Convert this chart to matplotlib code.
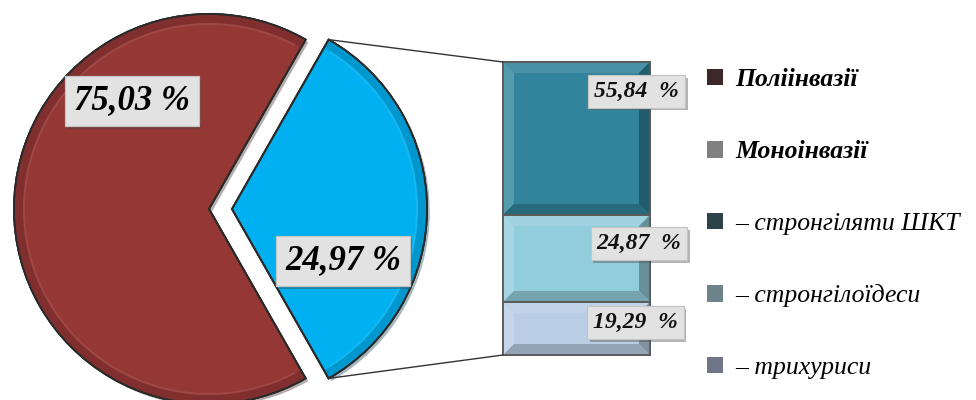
import matplotlib
matplotlib.use('Agg')
import matplotlib.pyplot as plt
from matplotlib.patches import Patch, Polygon, ConnectionPatch, Wedge
from matplotlib.transforms import IdentityTransform
import matplotlib.patheffects as pe
import matplotlib.colors as mcolors
import numpy as np

# ---- data ----
pie_categories = ['Поліінвазії', 'Моноінвазії']
pie_shares = [66.5, 33.5]            # slice sizes as drawn in the picture
pie_label_values = [75.03, 24.97]    # printed labels
bar_categories = ['– стронгіляти ШКТ', '– стронгілоїдеси', '– трихуриси']
bar_shares = [52.2, 29.7, 18.1]      # segment sizes as drawn
bar_label_values = [55.84, 24.87, 19.29]

pie_colors = ['#953735', '#00b0f0']
bar_colors = ['#31849b', '#92cddc', '#b9cde5']
legend_colors = ['#3c2828', '#808080', '#2c434a', '#6c838a', '#6f7686']

SERIF = ['Liberation Serif', 'DejaVu Serif']


def fmt(v, sep=' '):
    return f'{v:.2f}'.replace('.', ',') + sep + '%'


def shade(c, f):
    r = np.array(mcolors.to_rgb(c))
    if f >= 0:
        r = r + (1 - r) * f
    else:
        r = r * (1 + f)
    return tuple(np.clip(r, 0, 1))


fig = plt.figure(figsize=(9.76, 4.0), dpi=100)
ax = fig.add_axes([0, 0, 1, 1])

blue_deg = pie_shares[1] / sum(pie_shares) * 360
wedges, _ = ax.pie(pie_shares, colors=pie_colors, startangle=blue_deg / 2,
                   explode=[0, 23], center=(209, 191), radius=195, frame=True,
                   wedgeprops=dict(edgecolor='#2a2a2a', linewidth=1.3))
for w in wedges:
    w.set_path_effects([pe.withSimplePatchShadow(offset=(2, -2), alpha=0.35),
                        pe.Normal()])
# soft bevel rim on each slice (derived from the wedge geometry)
for w, c in zip(wedges, pie_colors):
    ax.add_patch(Wedge(w.center, w.r - 1, w.theta1 + 0.4, w.theta2 - 0.4,
                       width=8, fc=shade(c, -0.14), ec='none', zorder=2))
    ax.add_patch(Wedge(w.center, w.r - 9, w.theta1 + 2, w.theta2 - 2,
                       width=2, fc=shade(c, 0.25), ec='none', alpha=0.35,
                       zorder=2))
    ax.add_patch(Wedge(w.center, w.r, w.theta1, w.theta2, fc='none',
                       ec='#2a2a2a', lw=1.3, zorder=3))
ax.set_xlim(0, 976)
ax.set_ylim(0, 400)
ax.set_aspect('equal')
ax.axis('off')

# pie labels
box_kw = dict(boxstyle='square,pad=0.25', fc='#e2e2e2', ec='#c4c4c4', lw=0.8)
pie_label_pos = [(132, 299), (343, 139)]
for v, (x, y) in zip(pie_label_values, pie_label_pos):
    t = ax.text(x, y, fmt(v), ha='center', va='center', fontsize=25,
                family=SERIF, fontweight='bold', fontstyle='italic',
                color='black', bbox=box_kw, zorder=5)
    t.get_bbox_patch().set_path_effects(
        [pe.withSimplePatchShadow(offset=(2, -2), alpha=0.4), pe.Normal()])

# ---- bar of pie ----
bax = fig.add_axes([503 / 976, 45 / 400, 147 / 976, 293 / 400])
bottoms = [sum(bar_shares[i + 1:]) for i in range(len(bar_shares))]
rects = bax.bar(0, bar_shares, bottom=bottoms, width=1, color=bar_colors,
                edgecolor='#5a5a5a', linewidth=1.3, clip_on=False)
bax.set_xlim(-0.5, 0.5)
bax.set_ylim(0, sum(bar_shares))
bax.axis('off')

# bevel decoration for each segment (computed from bar geometry)
b = 11
for r, c in zip(rects, bar_colors):
    (x0, y0), (x1, y1) = bax.transData.transform(
        [(r.get_x(), r.get_y()), (r.get_x() + r.get_width(), r.get_y() + r.get_height())])
    polys = [
        ([(x0, y1), (x1, y1), (x1 - b, y1 - b), (x0 + b, y1 - b)], shade(c, 0.12)),
        ([(x0, y0), (x0, y1), (x0 + b, y1 - b), (x0 + b, y0 + b)], shade(c, 0.18)),
        ([(x1, y0), (x1, y1), (x1 - b, y1 - b), (x1 - b, y0 + b)], shade(c, -0.3)),
        ([(x0, y0), (x1, y0), (x1 - b, y0 + b), (x0 + b, y0 + b)], shade(c, -0.2)),
    ]
    for pts, col in polys:
        bax.add_patch(Polygon(pts, closed=True, fc=col, ec='none',
                              transform=IdentityTransform(), zorder=2,
                              clip_on=False))
    bax.add_patch(Polygon([(x0, y0), (x1, y0), (x1, y1), (x0, y1)], closed=True,
                          fc='none', ec='#5a5a5a', lw=1.3,
                          transform=IdentityTransform(), zorder=3, clip_on=False))

bar_label_pos = [(0.91, 0.90), (0.925, 0.38), (0.90, 0.11)]
for v, (x, y) in zip(bar_label_values, bar_label_pos):
    t = bax.text(x, y, fmt(v, '  '), transform=bax.transAxes, ha='center',
                 va='center', fontsize=17, family=SERIF, fontweight='bold',
                 fontstyle='italic', color='#111111',
                 bbox=dict(boxstyle='square,pad=0.25', fc='#e2e2e2',
                           ec='#c4c4c4', lw=0.8), zorder=6, clip_on=False)
    t.get_bbox_patch().set_path_effects(
        [pe.withSimplePatchShadow(offset=(2, -2), alpha=0.4), pe.Normal()])

# connector lines from the exploded slice to the bar
bw = wedges[1]
cx, cy = bw.center
for th, yb in [(bw.theta2, sum(bar_shares)), (bw.theta1, 0)]:
    p = (cx + bw.r * np.cos(np.radians(th)), cy + bw.r * np.sin(np.radians(th)))
    con = ConnectionPatch(xyA=p, coordsA=ax.transData, xyB=(-0.5, yb),
                          coordsB=bax.transData, color='#333333', lw=1.0)
    fig.add_artist(con)

# ---- legend ----
labels = pie_categories + bar_categories
handles = [Patch(fc=c, ec='none') for c in legend_colors]
leg = fig.legend(handles, labels, loc='upper left',
                 bbox_to_anchor=(707 / 976, (400 - 68) / 400), frameon=False,
                 prop=dict(family=SERIF, size=18.5, style='italic'),
                 handlelength=0.62, handleheight=0.62, handletextpad=0.47,
                 labelspacing=1.92, borderpad=0, borderaxespad=0)
for t in leg.get_texts()[:2]:
    t.set_fontweight('bold')

fig.savefig('out.png', dpi=100)
